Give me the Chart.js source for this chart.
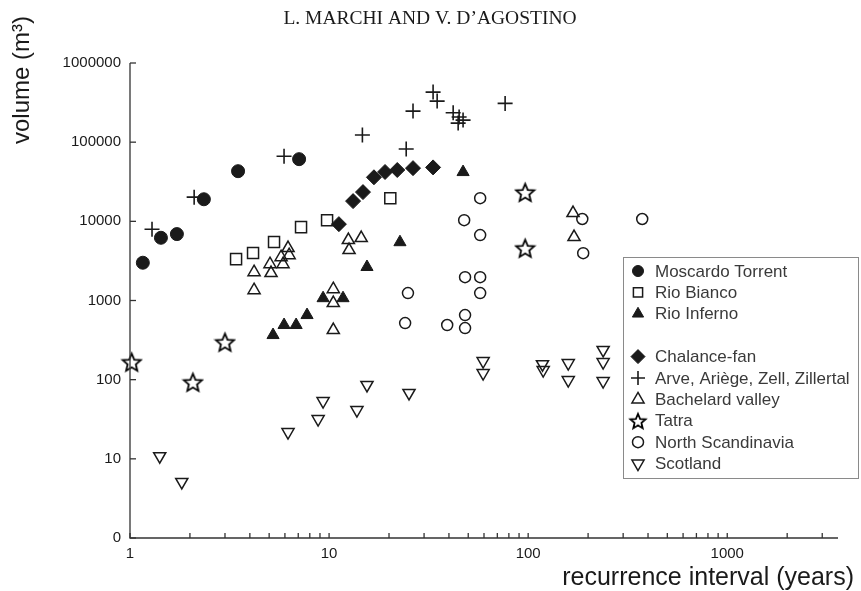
<!DOCTYPE html>
<html>
<head>
<meta charset="utf-8">
<script src="https://cdn.jsdelivr.net/npm/chart.js@4.4.0/dist/chart.umd.min.js"></script>
<style>
    html, body { margin: 0; padding: 0; background: #fff; }
    #wrap { width: 861px; height: 591px; }
</style>
</head>
<body>
<div id="wrap"><canvas id="chart" width="861" height="591"></canvas></div>
<script>
// 数据：重现期（年）与泥石流体积（m³）
const moscardoX = [1.16, 1.43, 1.72, 2.35, 3.49, 7.07];
const moscardoY = [3000, 6200, 6900, 19000, 43000, 61000];

const biancoX = [3.41, 4.15, 5.29, 7.23, 9.77, 20.3];
const biancoY = [3330, 3980, 5480, 8450, 10350, 19600];

const infernoX = [5.23, 5.94, 6.83, 7.75, 9.33, 11.75, 15.5, 22.7, 47.1];
const infernoY = [366, 490, 490, 655, 1070, 1070, 2650, 5450, 41900];

const chalanceX = [11.2, 13.2, 14.8, 16.8, 19.1, 22.0, 26.4, 33.3];
const chalanceY = [9220, 18000, 23400, 36000, 42000, 44500, 47000, 48000];

const arveX = [1.29, 2.10, 5.94, 14.7, 24.4, 26.4, 33.3, 34.9, 42.0, 45.0, 44.5, 47.1, 76.6];
const arveY = [7950, 20200, 66500, 123000, 81800, 247000, 429000, 330000, 235000, 208000, 174000, 190000, 309000];

const bachelardX = [4.20, 4.20, 5.05, 5.11, 5.74, 5.87, 6.22, 6.30, 10.5, 10.5, 10.5, 12.5, 12.6, 14.5, 168, 170];
const bachelardY = [2280, 1350, 2880, 2220, 3530, 2880, 4590, 3740, 1390, 927, 423, 5790, 4330, 6140, 12700, 6330];

const tatraX = [1.02, 2.07, 3.00, 96.6, 96.6];
const tatraY = [167, 93, 298, 23300, 4580];

const scandX = [24.9, 24.1, 39.2, 47.7, 48.2, 48.2, 48.2, 57.4, 57.4, 57.4, 57.4, 187, 189, 374];
const scandY = [1240, 519, 490, 10350, 1970, 655, 448, 19600, 6700, 1970, 1240, 10700, 3960, 10700];

const scotlandX = [1.41, 1.82, 6.22, 8.81, 9.33, 13.8, 15.5, 25.2, 59.4, 59.4, 118, 119, 159, 159, 238, 238, 238];
const scotlandY = [10.8, 5.1, 21.8, 31.8, 53.7, 41.3, 85.8, 67.9, 172, 121, 157, 132, 162, 99, 237, 167, 96];

// 坐标轴范围
const X_MIN = 1;
const X_MAX = 3600;
const Y_MIN = 1;
const Y_MAX = 1000000;

// 文本
const TITLE = 'L. MARCHI AND V. D\u2019AGOSTINO';
const X_TITLE = 'recurrence interval (years)';
const Y_TITLE = 'volume (m\u00B3)';

const INK = '#1a1a1a';

// 工具函数
const toPoints = (xs, ys) => xs.map((x, i) => ({ x: x, y: ys[i] }));
const isPow10 = (v) => Math.abs(Math.log10(v) - Math.round(Math.log10(v))) < 1e-6;
const isIntMantissa = (v) => {
    const p = Math.pow(10, Math.floor(Math.log10(v) + 1e-9));
    const m = v / p;
    return Math.abs(m - Math.round(m)) < 1e-6;
};

// 五角星标记（Chart.js 自带的 star 是米字形）
const makeStar = (r) => {
    const size = Math.ceil(r * 2 + 4);
    const c = document.createElement('canvas');
    c.width = size;
    c.height = size;
    const g = c.getContext('2d');
    g.beginPath();
    for (let i = 0; i < 10; i++) {
        const rr = i % 2 ? r * 0.45 : r;
        const a = -Math.PI / 2 + i * Math.PI / 5;
        const px = size / 2 + Math.cos(a) * rr;
        const py = size / 2 + 1 + Math.sin(a) * rr;
        if (i === 0) g.moveTo(px, py); else g.lineTo(px, py);
    }
    g.closePath();
    g.lineWidth = 1.8;
    g.strokeStyle = '#000';
    g.stroke();
    return c;
};

const starBig = makeStar(9.5);
const starSmall = makeStar(8);

const OPEN = 'rgba(0,0,0,0)';

// 数据集定义（顺序即图例顺序，null 为图例空行）
const series = [
    { label: 'Moscardo Torrent', xs: moscardoX, ys: moscardoY, style: 'circle', r: 6.5, fill: INK, bw: 1, lr: 5.5 },
    { label: 'Rio Bianco', xs: biancoX, ys: biancoY, style: 'rect', r: 7.8, fill: OPEN, bw: 1.5, lr: 6.5 },
    { label: 'Rio Inferno', xs: infernoX, ys: infernoY, style: 'triangle', r: 7, fill: INK, bw: 1, lr: 6.5 },
    null,
    { label: 'Chalance-fan', xs: chalanceX, ys: chalanceY, style: 'rectRot', r: 7.5, fill: INK, bw: 1, lr: 7 },
    { label: 'Arve, Ari\u00E8ge, Zell, Zillertal', xs: arveX, ys: arveY, style: 'cross', r: 7.5, fill: INK, bw: 1.6, lr: 7 },
    { label: 'Bachelard valley', xs: bachelardX, ys: bachelardY, style: 'triangle', r: 7, fill: OPEN, bw: 1.5, lr: 7 },
    { label: 'Tatra', xs: tatraX, ys: tatraY, style: starBig, legendStyle: starSmall, r: 9, fill: OPEN, bw: 1.5, lr: 7 },
    { label: 'North Scandinavia', xs: scandX, ys: scandY, style: 'circle', r: 5.5, fill: OPEN, bw: 1.5, lr: 5.5 },
    { label: 'Scotland', xs: scotlandX, ys: scotlandY, style: 'triangle', rot: 180, r: 7, fill: OPEN, bw: 1.5, lr: 7 }
];

const datasets = series.filter(s => s).map(s => ({
    label: s.label,
    data: toPoints(s.xs, s.ys),
    pointStyle: s.style,
    rotation: s.rot || 0,
    pointRadius: s.r,
    pointHoverRadius: s.r,
    backgroundColor: s.fill,
    borderColor: INK,
    borderWidth: s.bw,
    clip: false
}));

// 自绘坐标轴、刻度、标题与图例
const framePlugin = {
    id: 'frame',
    afterDraw(chart) {
        const ctx = chart.ctx;
        const area = chart.chartArea;
        const xs = chart.scales.x;
        const ys = chart.scales.y;

        ctx.save();
        ctx.strokeStyle = '#333';
        ctx.lineWidth = 1.3;

        // 左轴与底轴
        ctx.beginPath();
        ctx.moveTo(area.left, area.top);
        ctx.lineTo(area.left, area.bottom);
        ctx.lineTo(area.right, area.bottom);
        ctx.stroke();

        // y 轴主刻度（向内）
        ys.ticks.forEach(t => {
            const py = ys.getPixelForValue(t.value);
            ctx.beginPath();
            ctx.moveTo(area.left, py);
            ctx.lineTo(area.left + 6, py);
            ctx.stroke();
        });

        // x 轴刻度（向内）
        xs.ticks.forEach(t => {
            const px = xs.getPixelForValue(t.value);
            ctx.beginPath();
            ctx.moveTo(px, area.bottom);
            ctx.lineTo(px, area.bottom - 5);
            ctx.stroke();
        });

        // 标题
        ctx.fillStyle = INK;
        ctx.textAlign = 'center';
        ctx.textBaseline = 'middle';
        ctx.font = '19.5px "Liberation Serif", "DejaVu Serif", serif';
        ctx.fillText(TITLE, 430, 19);

        // x 轴标题
        ctx.font = '25px "Liberation Sans", Arial, sans-serif';
        ctx.textAlign = 'right';
        ctx.fillText(X_TITLE, 854, 578);

        // y 轴标题
        ctx.save();
        ctx.translate(22, 80);
        ctx.rotate(-Math.PI / 2);
        ctx.textAlign = 'center';
        ctx.font = '24px "Liberation Sans", Arial, sans-serif';
        ctx.fillText(Y_TITLE, 0, 0);
        ctx.restore();

        // 图例
        const box = { left: 623.5, top: 257.5, width: 235, height: 221 };
        ctx.fillStyle = '#fff';
        ctx.fillRect(box.left, box.top, box.width, box.height);
        ctx.strokeStyle = '#8a8a8a';
        ctx.lineWidth = 1;
        ctx.strokeRect(box.left, box.top, box.width, box.height);

        ctx.font = '17px "Liberation Sans", Arial, sans-serif';
        ctx.textAlign = 'left';
        ctx.textBaseline = 'middle';
        series.forEach((s, i) => {
            if (!s) return;
            const rowY = 271 + i * 21.4;
            ctx.fillStyle = s.fill;
            ctx.strokeStyle = INK;
            ctx.lineWidth = s.bw;
            Chart.helpers.drawPoint(ctx, {
                pointStyle: s.legendStyle || s.style,
                radius: s.lr,
                rotation: s.rot || 0,
                borderWidth: s.bw
            }, 638, rowY);
            ctx.fillStyle = '#3a3a3a';
            ctx.fillText(s.label, 655, rowY + 1);
        });

        ctx.restore();
    }
};

const chart = new Chart(document.getElementById('chart'), {
    type: 'scatter',
    data: { datasets: datasets },
    options: {
        responsive: false,
        animation: false,
        events: [],
        layout: { padding: { top: 63, right: 23, left: 0, bottom: 0 } },
        plugins: {
            legend: { display: false },
            tooltip: { enabled: false },
            title: { display: false }
        },
        scales: {
            x: {
                type: 'logarithmic',
                min: X_MIN,
                max: X_MAX,
                grid: { display: false, drawTicks: false },
                border: { display: false },
                afterBuildTicks: (axis) => {
                    axis.ticks = axis.ticks.filter(t => isIntMantissa(t.value));
                },
                afterFit: (scale) => { scale.height = 53; },
                ticks: {
                    autoSkip: false,
                    maxRotation: 0,
                    padding: 7,
                    color: INK,
                    font: { family: '"Liberation Sans", Arial, sans-serif', size: 15 },
                    callback: (v) => isPow10(v) ? String(Math.round(v)) : ''
                }
            },
            y: {
                type: 'logarithmic',
                min: Y_MIN,
                max: Y_MAX,
                grid: { display: false, drawTicks: false },
                border: { display: false },
                afterBuildTicks: (axis) => {
                    axis.ticks = axis.ticks.filter(t => isPow10(t.value));
                },
                afterFit: (scale) => { scale.width = 130; },
                ticks: {
                    autoSkip: false,
                    padding: 9,
                    color: INK,
                    font: { family: '"Liberation Sans", Arial, sans-serif', size: 15 },
                    callback: (v) => v === 1 ? '0' : String(Math.round(v))
                }
            }
        }
    },
    plugins: [framePlugin]
});
</script>
</body>
</html>
